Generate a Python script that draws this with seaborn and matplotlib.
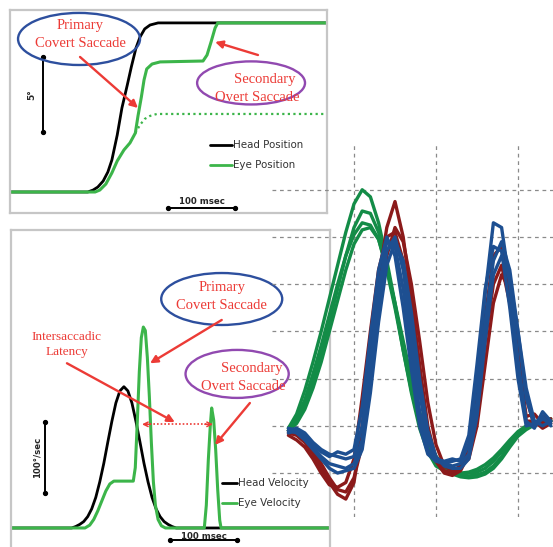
import matplotlib

matplotlib.use("Agg")

import matplotlib.pyplot as plt
import pandas as pd
import seaborn as sns
from matplotlib.patches import Ellipse

sns.set_style("white")
plt.rcParams["font.family"] = ["DejaVu Sans"]

W, H = 553, 547
RED = "#ec3b36"
BLUE_RING = "#2d4f9e"
PURPLE_RING = "#9149b0"
EYE_GREEN = "#3cb54a"
FRAME = "#c6c6c6"
SERIF = ["Liberation Serif", "DejaVu Serif"]

# position panel (ms, deg)
HEAD_POS_T = [0, 116, 124, 131, 139, 146, 152, 160, 167, 175, 181, 188, 194, 201, 209, 221, 473]
HEAD_POS_D = [0, 0, 0.13, 0.33, 0.73, 1.33, 2.13, 3.8, 5.6, 7.13, 8.33, 9.6, 10.33, 10.87, 11.13, 11.27, 11.27]
EYE_POS_T = [3, 127, 134, 143, 152, 160, 170, 179, 187, 191, 196, 200, 204, 212, 224, 288, 294, 300, 306, 310, 473]
EYE_POS_D = [0, 0, 0.13, 0.53, 1.27, 2.07, 2.8, 3.27, 3.93, 5.07, 6.33, 7.47, 8.2, 8.53, 8.67, 8.73, 9.13, 10.0, 10.93, 11.27, 11.27]
EYE_DOT_T = [187, 194, 201, 209, 219, 470]
EYE_DOT_D = [3.93, 4.47, 4.87, 5.07, 5.2, 5.2]

# velocity panel (ms, deg/s)
HEAD_VEL_T = [0, 92, 98, 104, 110, 116, 122, 128, 134, 140, 146, 152, 158, 164, 170,
              176, 182, 188, 194, 200, 206, 212, 218, 224, 230, 236, 242, 248, 478]
HEAD_VEL_V = [0, 0, 2, 5, 9, 16, 27, 43, 65, 91, 121, 150, 176, 193, 199,
              193, 176, 150, 121, 91, 65, 43, 27, 16, 9, 5, 2, 0, 0]
EYE_VEL_T = [3, 112, 119, 125, 131, 137, 143, 149, 155, 184, 187, 190, 193, 196, 199, 202, 205,
             208, 211, 214, 217, 221, 226, 232, 290, 293, 296, 299, 301, 304, 307, 310, 313, 315, 478]
EYE_VEL_V = [0, 0, 4, 12, 24, 38, 52, 62, 66, 66, 85, 150, 220, 268, 283, 278, 240,
             185, 120, 65, 32, 12, 3, 0, 0, 32, 96, 145, 169, 152, 110, 54, 11, 0, 0]

# vHIT traces on the right (sample axis, grid units)
TRACE_T = [0.2, 0.3, 0.4, 0.5, 0.6, 0.7, 0.8, 0.9, 1.0, 1.1, 1.2, 1.3, 1.4, 1.5, 1.6, 1.7, 1.8,
           1.9, 2.0, 2.1, 2.2, 2.3, 2.4, 2.5, 2.6, 2.7, 2.8, 2.9, 3.0, 3.1, 3.2, 3.3, 3.4]
GREEN_1 = [0.95, 1.25, 1.75, 2.35, 3.0, 3.7, 4.4, 5.1, 5.7, 6.0, 5.85, 5.3, 4.5, 3.6, 2.6, 1.7, 0.95,
           0.45, 0.15, 0.05, 0.0, -0.02, 0.0, 0.02, 0.1, 0.25, 0.45, 0.65, 0.85, 0.98, 1.05, 1.1, 1.12]
GREEN_2 = [0.95, 1.15, 1.55, 2.1, 2.7, 3.35, 4.0, 4.6, 5.05, 5.3, 5.25, 4.95, 4.3, 3.5, 2.6, 1.75, 1.05,
           0.55, 0.25, 0.08, 0.0, -0.05, -0.06, -0.04, 0.02, 0.15, 0.35, 0.6, 0.8, 0.95, 1.05, 1.1, 1.1]
GREEN_3 = [0.9, 1.1, 1.45, 1.95, 2.55, 3.2, 3.9, 4.6, 5.2, 5.55, 5.5, 5.1, 4.4, 3.55, 2.7, 1.9, 1.2,
           0.7, 0.35, 0.15, 0.05, 0.0, 0.02, 0.08, 0.18, 0.32, 0.5, 0.7, 0.88, 1.0, 1.08, 1.12, 1.15]
GREEN_4 = [0.9, 1.05, 1.35, 1.8, 2.35, 3.0, 3.65, 4.3, 4.85, 5.15, 5.2, 4.95, 4.35, 3.6, 2.8, 2.0, 1.3,
           0.75, 0.35, 0.1, -0.02, -0.08, -0.1, -0.08, -0.02, 0.1, 0.3, 0.55, 0.78, 0.92, 1.02, 1.08, 1.1]
RED_1 = [0.85, 0.8, 0.65, 0.4, 0.1, -0.2, -0.45, -0.55, -0.2, 1.0, 2.6, 4.1, 5.2, 5.75, 5.0, 3.7, 2.3,
         1.0, 0.3, 0.05, 0.0, 0.1, 0.6, 1.8, 3.3, 4.6, 4.8, 3.9, 2.5, 1.2, 1.25, 1.05, 1.15]
RED_2 = [0.8, 0.7, 0.55, 0.3, 0.0, -0.25, -0.3, -0.2, 0.3, 1.6, 3.0, 4.3, 5.0, 5.1, 4.5, 3.3, 2.0,
         0.9, 0.25, 0.0, -0.05, 0.05, 0.4, 1.4, 2.8, 4.0, 4.4, 3.6, 2.3, 1.1, 1.1, 0.95, 1.05]
RED_3 = [0.9, 0.85, 0.7, 0.5, 0.2, -0.1, -0.35, -0.4, -0.1, 0.6, 2.0, 3.5, 4.6, 5.2, 4.9, 4.0, 2.8,
         1.5, 0.6, 0.15, 0.05, 0.15, 0.3, 1.0, 2.3, 3.6, 4.2, 3.9, 2.9, 1.6, 1.0, 1.2, 1.1]
BLUE_1 = [0.9, 0.95, 0.85, 0.65, 0.5, 0.4, 0.35, 0.3, 0.35, 1.0, 2.4, 3.9, 4.9, 4.8, 3.9, 2.6, 1.3,
          0.5, 0.3, 0.25, 0.3, 0.25, 0.6, 2.0, 3.8, 5.3, 5.2, 4.0, 2.4, 1.1, 0.95, 1.3, 1.1]
BLUE_2 = [0.95, 0.9, 0.75, 0.55, 0.35, 0.2, 0.15, 0.1, 0.2, 0.7, 2.0, 3.5, 4.7, 5.0, 4.3, 3.0, 1.7,
          0.7, 0.3, 0.2, 0.15, 0.2, 0.4, 1.5, 3.2, 4.5, 4.9, 4.3, 3.0, 1.6, 1.0, 1.15, 1.05]
BLUE_3 = [0.85, 0.9, 0.8, 0.6, 0.45, 0.35, 0.45, 0.4, 0.5, 1.4, 2.9, 4.3, 5.0, 4.6, 3.5, 2.2, 1.0,
          0.4, 0.25, 0.2, 0.25, 0.3, 0.8, 2.3, 3.9, 4.8, 4.7, 3.5, 2.0, 1.0, 1.05, 1.2, 1.0]
BLUE_4 = [0.9, 0.85, 0.7, 0.5, 0.3, 0.1, 0.0, 0.05, 0.1, 0.5, 1.7, 3.2, 4.4, 4.9, 4.5, 3.4, 2.0,
          0.9, 0.35, 0.15, 0.1, 0.1, 0.3, 1.2, 2.8, 4.2, 4.6, 4.1, 3.0, 1.8, 1.1, 1.0, 1.1]


def px_axes(fig, x0, y0, x1, y1):
    return fig.add_axes([x0 / W, 1 - y1 / H, (x1 - x0) / W, (y1 - y0) / H])


def frame(ax, bottom=True):
    ax.set_xticks([])
    ax.set_yticks([])
    for name, spine in ax.spines.items():
        spine.set_color(FRAME)
        spine.set_linewidth(1.6)
        if name == "bottom" and not bottom:
            spine.set_visible(False)


def bubble(ax, center, w, h, ring, lines):
    ax.add_patch(Ellipse(center, w, h, fill=False, edgecolor=ring, lw=1.7, zorder=5))
    for x, y, s in lines:
        ax.text(x, y, s, color=RED, fontsize=10.5, family=SERIF, ha="center", va="center", zorder=6)


def arrow(ax, tail, tip, **kw):
    props = dict(arrowstyle="-|>", color=RED, lw=1.7, mutation_scale=11, shrinkA=0, shrinkB=0)
    props.update(kw)
    ax.annotate("", xy=tip, xytext=tail, arrowprops=props, zorder=6)


def scale_bar(ax, xs, ys):
    ax.plot(xs, ys, color="black", lw=1.4, marker="o", markersize=2.8, zorder=4)


fig = plt.figure(figsize=(W / 100, H / 100), dpi=100)

# ---- head / eye position
ax1 = px_axes(fig, 10, 10, 327, 213)
ax1.set_xlim(0, 473)
ax1.set_ylim(-1.4, 12.13)
sns.lineplot(x=EYE_DOT_T, y=EYE_DOT_D, ax=ax1, color=EYE_GREEN, lw=1.6, linestyle=(0, (1, 1.5)),
             sort=False, estimator=None)
sns.lineplot(x=HEAD_POS_T, y=HEAD_POS_D, ax=ax1, color="black", lw=2.0, sort=False, estimator=None)
sns.lineplot(x=EYE_POS_T, y=EYE_POS_D, ax=ax1, color=EYE_GREEN, lw=2.2, sort=False, estimator=None)
frame(ax1)

ax1.plot([299, 331], [3.13, 3.13], color="black", lw=2)
ax1.text(333, 3.13, "Head Position", fontsize=7.4, color="#333333", va="center")
ax1.plot([299, 331], [1.8, 1.8], color=EYE_GREEN, lw=2)
ax1.text(333, 1.8, "Eye Position", fontsize=7.4, color="#333333", va="center")

scale_bar(ax1, [49, 49], [9.0, 4.0])
ax1.text(33, 6.5, "5°", rotation=90, fontsize=6.5, fontweight="bold", ha="center", va="center")
scale_bar(ax1, [236, 336], [-1.07, -1.07])
ax1.text(286, -0.95, "100 msec", fontsize=6.2, fontweight="bold", ha="center", va="bottom")

bubble(ax1, (103, 10.2), 182, 3.47, BLUE_RING,
       [(104.5, 11.13, "Primary"), (104.5, 9.87, "Covert Saccade")])
bubble(ax1, (359.7, 7.27), 161, 2.87, PURPLE_RING,
       [(380.6, 7.53, "Secondary"), (368.7, 6.33, "Overt Saccade")])
arrow(ax1, (104.5, 9.0), (191, 5.6))
arrow(ax1, (370, 9.13), (306, 10.0))

# ---- head / eye velocity
ax2 = px_axes(fig, 11, 230, 330, 547)
ax2.set_xlim(1.5, 477.6)
ax2.set_ylim(-26.8, 419.7)
sns.lineplot(x=HEAD_VEL_T, y=HEAD_VEL_V, ax=ax2, color="black", lw=2.0, sort=False, estimator=None)
sns.lineplot(x=EYE_VEL_T, y=EYE_VEL_V, ax=ax2, color=EYE_GREEN, lw=2.2, sort=False, estimator=None)
frame(ax2, bottom=False)

ax2.plot([316, 339], [63, 63], color="black", lw=2)
ax2.text(340, 63, "Head Velocity", fontsize=7.4, color="#333333", va="center")
ax2.plot([316, 339], [35, 35], color=EYE_GREEN, lw=2)
ax2.text(340, 35, "Eye Velocity", fontsize=7.4, color="#333333", va="center")

scale_bar(ax2, [52, 52], [149, 49])
ax2.text(40, 99, "100°/sec", rotation=90, fontsize=6.2, fontweight="bold", ha="center", va="center")
scale_bar(ax2, [239, 339], [-17, -17])
ax2.text(289, -19, "100 msec", fontsize=6.2, fontweight="bold", ha="center", va="bottom")

bubble(ax2, (316, 322.5), 180.6, 73.2, BLUE_RING,
       [(316, 339, "Primary"), (316, 314, "Covert Saccade")])
bubble(ax2, (339, 217), 154, 67.6, PURPLE_RING,
       [(361, 224, "Secondary"), (348, 199, "Overt Saccade")])
ax2.text(84, 269, "Intersaccadic", color=RED, fontsize=9.5, family=SERIF, ha="center", va="center")
ax2.text(85, 248, "Latency", color=RED, fontsize=9.5, family=SERIF, ha="center", va="center")
arrow(ax2, (316, 293), (209, 232))
arrow(ax2, (85, 232), (246, 149))
arrow(ax2, (358, 176), (306, 117))
ax2.plot([203, 297], [146, 146], color=RED, lw=1.2, linestyle=(0, (1, 1.2)))
arrow(ax2, (209, 146), (197, 146), arrowstyle="->", lw=1.1, mutation_scale=8)
arrow(ax2, (291, 146), (303, 146), arrowstyle="->", lw=1.1, mutation_scale=8)

# ---- vHIT traces
groups = [("green", GREEN_1), ("green", GREEN_2), ("green", GREEN_3), ("green", GREEN_4),
          ("red", RED_1), ("red", RED_2), ("red", RED_3),
          ("blue", BLUE_1), ("blue", BLUE_2), ("blue", BLUE_3), ("blue", BLUE_4)]
rows = []
for i, (group, values) in enumerate(groups):
    for t, v in zip(TRACE_T, values):
        rows.append({"t": t, "v": v, "group": group, "trace": f"{group}{i}"})
traces = pd.DataFrame(rows)

ax3 = px_axes(fig, 272, 143, 553, 517)
ax3.set_facecolor("none")
sns.lineplot(data=traces, x="t", y="v", hue="group", units="trace", estimator=None, sort=False,
             hue_order=["green", "red", "blue"],
             palette={"green": "#138c47", "red": "#8b1a1a", "blue": "#1d4f91"},
             lw=2.4, legend=False, ax=ax3)
ax3.set_xlim(0, 3.427)
ax3.set_ylim(-0.93, 6.99)
ax3.set_xticks([1, 2, 3])
ax3.set_yticks([0, 1, 2, 3, 4, 5, 6])
ax3.grid(True, color="#8a8a8a", linestyle=(0, (3, 3)), lw=0.9)
ax3.set_axisbelow(True)
ax3.tick_params(left=False, bottom=False, labelleft=False, labelbottom=False)
ax3.set_xlabel("")
ax3.set_ylabel("")
for spine in ax3.spines.values():
    spine.set_visible(False)

fig.savefig("out.png", dpi=100, facecolor="white")
